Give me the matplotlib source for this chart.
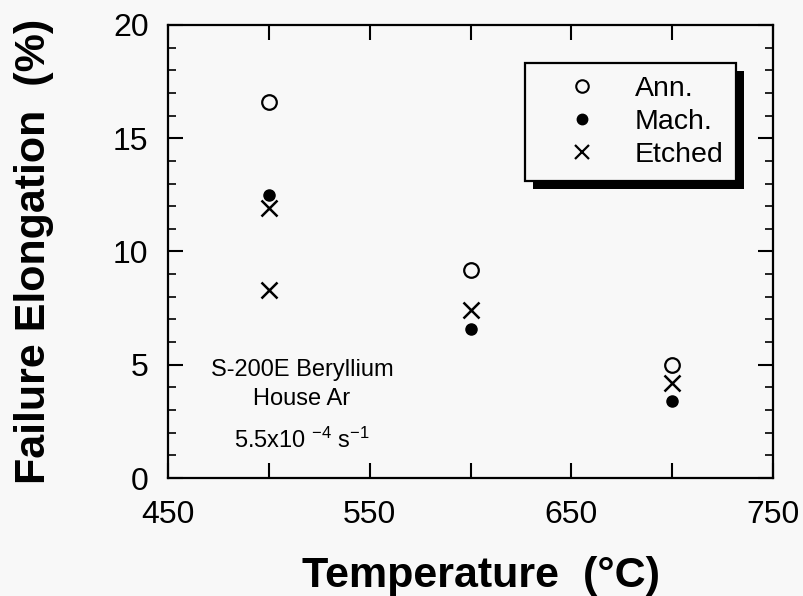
import matplotlib
matplotlib.use("Agg")
import matplotlib.pyplot as plt
from matplotlib.lines import Line2D
from matplotlib.patches import Rectangle
from matplotlib.ticker import MultipleLocator

# Failure elongation (%) of S-200E beryllium vs. test temperature
ann_temp = [500, 600, 700]
ann_elong = [16.6, 9.2, 5.0]
mach_temp = [500, 600, 700]
mach_elong = [12.5, 6.6, 3.4]
etched_temp = [500, 500, 600, 700]
etched_elong = [11.9, 8.3, 7.4, 4.2]

xticks = [450, 500, 550, 600, 650, 700, 750]
xticklabels = ["450", "", "550", "", "650", "", "750"]
yticks = [0, 5, 10, 15, 20]

series_labels = ["Ann.", "Mach.", "Etched"]

BG = "#f8f8f8"
plt.rcParams["font.family"] = ["Liberation Sans", "DejaVu Sans"]
plt.rcParams["mathtext.fontset"] = "custom"
plt.rcParams["mathtext.rm"] = "Liberation Sans"
plt.rcParams["mathtext.it"] = "Liberation Sans:italic"
plt.rcParams["mathtext.bf"] = "Liberation Sans:bold"

fig = plt.figure(figsize=(8.04, 5.96), dpi=100, facecolor=BG)
W, H = 804, 596
L, R, T, B = 168, 773, 25, 478
ax = fig.add_axes([L / W, 1 - B / H, (R - L) / W, (B - T) / H], facecolor=BG)

ax.plot(ann_temp, ann_elong, linestyle="none", marker="o", ms=10.5,
        mfc="none", mec="black", mew=1.6)
ax.plot(mach_temp, mach_elong, linestyle="none", marker="o", ms=8,
        mfc="black", mec="black")
ax.plot(etched_temp, etched_elong, linestyle="none", marker="x", ms=11,
        mec="black", mew=1.8)

ax.set_xlim(450, 750)
ax.set_ylim(0, 20)
ax.set_xticks(xticks)
ax.set_xticklabels(xticklabels)
ax.set_yticks(yticks)
ax.yaxis.set_minor_locator(MultipleLocator(1))

for s in ax.spines.values():
    s.set_linewidth(1.6)

ax.tick_params(axis="both", which="major", direction="in", length=11,
               width=1.5, top=True, right=True, labelsize=23, colors="black")
ax.tick_params(axis="both", which="minor", direction="in", length=6,
               width=1.2, top=True, right=True)
ax.tick_params(axis="x", pad=16)
ax.tick_params(axis="y", pad=14)

# Axis titles
fig.text(481 / W, 1 - 587 / H, "Temperature  (°C)", fontsize=31,
         fontweight="bold", ha="center", va="baseline")
fig.text(45 / W, 1 - 251 / H, "Failure Elongation  (%)", fontsize=31,
         fontweight="bold", rotation=90, rotation_mode="anchor",
         ha="center", va="baseline")

# Specimen description
tx = (302 - L) / (R - L)
ax.text(tx, (B - 376) / (B - T), "S-200E Beryllium", transform=ax.transAxes,
        fontsize=17, ha="center", va="baseline")
ax.text(tx, (B - 405) / (B - T), "House Ar", transform=ax.transAxes,
        fontsize=17, ha="center", va="baseline")
ax.text(tx, (B - 448) / (B - T), r"5.5x10 $^{\mathrm{-4}}$ s$^{\mathrm{-1}}$",
        transform=ax.transAxes, fontsize=17, ha="center", va="baseline")

# Legend with a solid drop shadow
handles = [
    Line2D([], [], linestyle="none", marker="o", ms=9, mfc="none",
           mec="black", mew=1.5),
    Line2D([], [], linestyle="none", marker="o", ms=7.5, mfc="black",
           mec="black"),
    Line2D([], [], linestyle="none", marker="x", ms=10, mec="black",
           mew=1.6),
]
leg = ax.legend(handles, series_labels, loc="upper left",
                bbox_to_anchor=((525 - L) / (R - L), (B - 63) / (B - T)),
                prop={"size": 20.5}, frameon=True, fancybox=False,
                edgecolor="black", facecolor=BG, framealpha=1,
                borderpad=0.45, handlelength=3.1, handletextpad=0.3,
                labelspacing=0.25, borderaxespad=0)
leg.get_frame().set_linewidth(1.6)
leg.set_zorder(5)

fig.canvas.draw()
bb = leg.get_window_extent()
off = 8
shadow = Rectangle((bb.x0 + off, bb.y0 - off), bb.width, bb.height,
                   transform=None, facecolor="black", edgecolor="none",
                   zorder=4)
ax.add_artist(shadow)

fig.savefig("out.png", dpi=100, facecolor=BG)
